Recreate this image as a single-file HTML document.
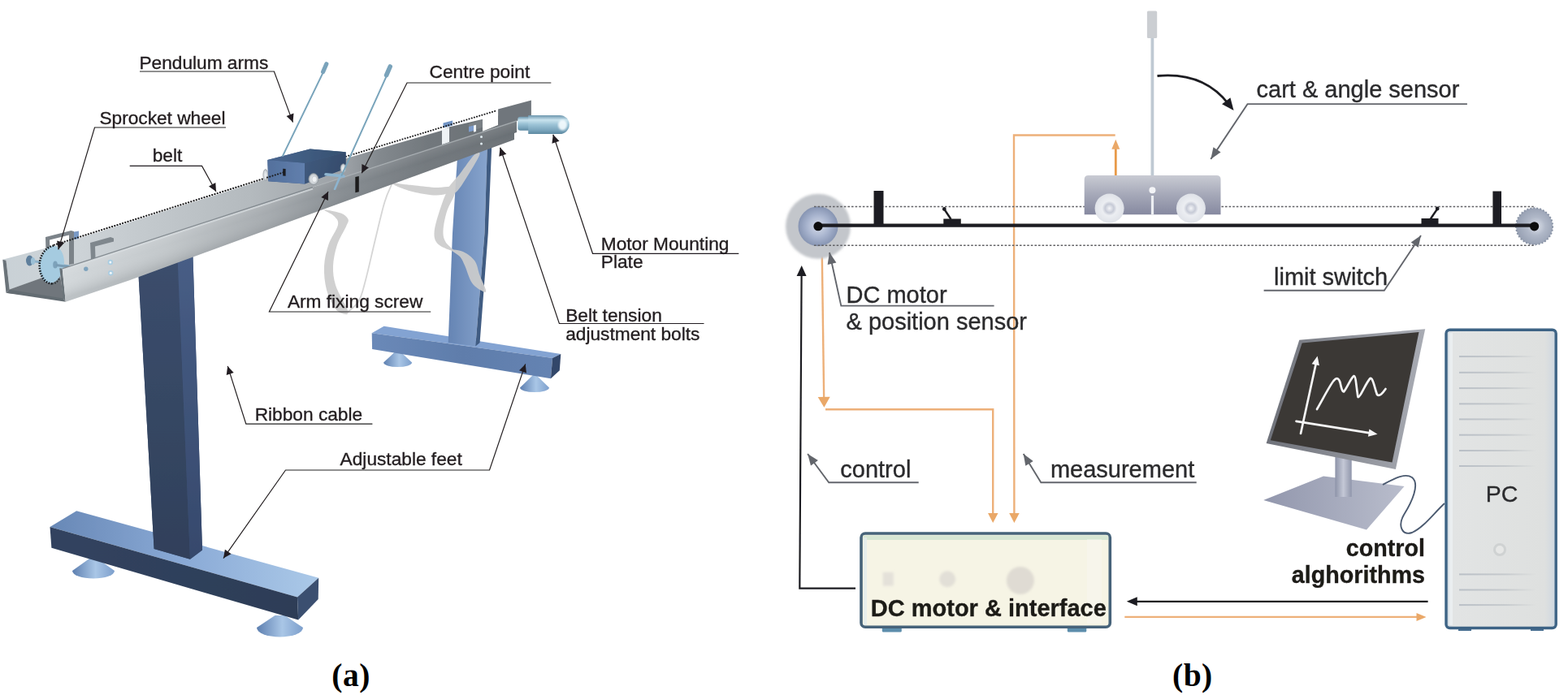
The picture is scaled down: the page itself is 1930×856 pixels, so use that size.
<!DOCTYPE html>
<html lang="en">
<head>
<meta charset="utf-8">
<title>Inverted pendulum setup</title>
<style>
html,body{margin:0;padding:0;background:#fff;}
body{width:1930px;height:856px;overflow:hidden;}
svg{display:block;}
text{white-space:pre;}
</style>
</head>
<body>
<svg width="1930" height="856" viewBox="0 0 1930 856">
<defs>

<filter id="blurA" filterUnits="userSpaceOnUse" x="0" y="0" width="960" height="856"><feGaussianBlur stdDeviation="0.4"/></filter>
<linearGradient id="gNear" gradientUnits="userSpaceOnUse" x1="80" y1="0" x2="636" y2="0">
  <stop offset="0" stop-color="#d3d8db"/><stop offset="0.22" stop-color="#c3c8cb"/>
  <stop offset="0.45" stop-color="#a6abaf"/><stop offset="0.62" stop-color="#868c91"/>
  <stop offset="0.8" stop-color="#72787d"/><stop offset="1" stop-color="#6a7075"/>
</linearGradient>
<linearGradient id="gNearV" gradientUnits="userSpaceOnUse" x1="300" y1="258" x2="311" y2="292">
  <stop offset="0" stop-color="#ffffff" stop-opacity="0.10"/><stop offset="0.35" stop-color="#ffffff" stop-opacity="0"/>
  <stop offset="1" stop-color="#20262c" stop-opacity="0.12"/>
</linearGradient>
<linearGradient id="gFar" gradientUnits="userSpaceOnUse" x1="4" y1="0" x2="612" y2="0">
  <stop offset="0" stop-color="#c9d1d6"/><stop offset="0.15" stop-color="#cdd3d7"/>
  <stop offset="0.5" stop-color="#b4babe"/><stop offset="0.7" stop-color="#9a9fa4"/>
  <stop offset="0.76" stop-color="#83898e"/><stop offset="0.86" stop-color="#72787d"/><stop offset="1" stop-color="#6a7075"/>
</linearGradient>
<linearGradient id="gColF" gradientUnits="userSpaceOnUse" x1="0" y1="330" x2="0" y2="690">
  <stop offset="0" stop-color="#3b4d6c"/><stop offset="1" stop-color="#30405a"/>
</linearGradient>
<linearGradient id="gColR" gradientUnits="userSpaceOnUse" x1="0" y1="320" x2="0" y2="690">
  <stop offset="0" stop-color="#475d85"/><stop offset="1" stop-color="#36496c"/>
</linearGradient>
<linearGradient id="gBaseTop" gradientUnits="userSpaceOnUse" x1="62" y1="0" x2="392" y2="0">
  <stop offset="0" stop-color="#6888b6"/><stop offset="0.5" stop-color="#8aaad6"/><stop offset="1" stop-color="#abc9e8"/>
</linearGradient>
<linearGradient id="gBaseFront" gradientUnits="userSpaceOnUse" x1="62" y1="0" x2="368" y2="0">
  <stop offset="0" stop-color="#31435f"/><stop offset="1" stop-color="#2d3d57"/>
</linearGradient>
<linearGradient id="gBCol" gradientUnits="userSpaceOnUse" x1="553" y1="0" x2="598" y2="0">
  <stop offset="0" stop-color="#6685b4"/><stop offset="1" stop-color="#86a3cc"/>
</linearGradient>
<linearGradient id="gBBaseF" gradientUnits="userSpaceOnUse" x1="458" y1="0" x2="680" y2="0">
  <stop offset="0" stop-color="#6a89b8"/><stop offset="0.5" stop-color="#5f7dab"/><stop offset="1" stop-color="#6583b2"/>
</linearGradient>
<linearGradient id="gFoot" x1="0" y1="0" x2="1" y2="0">
  <stop offset="0" stop-color="#5d7fb0"/><stop offset="0.55" stop-color="#a9c6e6"/><stop offset="1" stop-color="#7d9fcc"/>
</linearGradient>
<linearGradient id="gMotor" x1="0" y1="0" x2="0" y2="1">
  <stop offset="0" stop-color="#6b95ad"/><stop offset="0.25" stop-color="#c9e3ee"/>
  <stop offset="0.5" stop-color="#9cc3d6"/><stop offset="0.8" stop-color="#7aa5bc"/><stop offset="1" stop-color="#5d89a1"/>
</linearGradient>
<linearGradient id="gCartL" gradientUnits="userSpaceOnUse" x1="329" y1="0" x2="375" y2="0">
  <stop offset="0" stop-color="#53709c"/><stop offset="1" stop-color="#617fad"/>
</linearGradient>
<linearGradient id="gCartR" gradientUnits="userSpaceOnUse" x1="375" y1="200" x2="425" y2="215">
  <stop offset="0" stop-color="#405a7d"/><stop offset="1" stop-color="#344a6a"/>
</linearGradient>
<linearGradient id="gCartT" gradientUnits="userSpaceOnUse" x1="330" y1="0" x2="426" y2="0">
  <stop offset="0" stop-color="#4a6791"/><stop offset="1" stop-color="#35506f"/>
</linearGradient>
<radialGradient id="gWheel" cx="0.5" cy="0.5" r="0.5">
  <stop offset="0" stop-color="#eef1f3"/><stop offset="0.7" stop-color="#d2d7db"/><stop offset="1" stop-color="#aab0b6"/>
</radialGradient>
<filter id="soft" x="-5%" y="-5%" width="110%" height="110%"><feGaussianBlur stdDeviation="0.6"/></filter>
<filter id="soft2" x="-5%" y="-5%" width="110%" height="110%"><feGaussianBlur stdDeviation="1.0"/></filter>


<filter id="blurB" filterUnits="userSpaceOnUse" x="960" y="0" width="970" height="856"><feGaussianBlur stdDeviation="0.6"/></filter>
<radialGradient id="gPulL" cx="0.5" cy="0.5" r="0.5">
  <stop offset="0" stop-color="#d6dcea"/><stop offset="0.55" stop-color="#a9b5cf"/><stop offset="1" stop-color="#8694b2"/>
</radialGradient>
<radialGradient id="gPulR" cx="0.55" cy="0.5" r="0.5">
  <stop offset="0" stop-color="#dfe3ec"/><stop offset="0.5" stop-color="#b0b8c8"/><stop offset="1" stop-color="#9aa3b5"/>
</radialGradient>
<linearGradient id="gCartB" x1="0" y1="0" x2="0" y2="1">
  <stop offset="0" stop-color="#c9cbd3"/><stop offset="0.5" stop-color="#a5a8b8"/><stop offset="1" stop-color="#8689a0"/>
</linearGradient>
<radialGradient id="gWhB" cx="0.5" cy="0.5" r="0.5">
  <stop offset="0" stop-color="#f4f5f8"/><stop offset="0.3" stop-color="#c6cad6"/><stop offset="0.5" stop-color="#eceef2"/><stop offset="1" stop-color="#dfe2e8"/>
</radialGradient>
<linearGradient id="gPC" x1="0" y1="0" x2="1" y2="0">
  <stop offset="0" stop-color="#c9d6e2"/><stop offset="0.06" stop-color="#e2e4e4"/><stop offset="0.9" stop-color="#dee0df"/><stop offset="1" stop-color="#ccd6e0"/>
</linearGradient>
<linearGradient id="gVent" x1="0" y1="0" x2="1" y2="0">
  <stop offset="0" stop-color="#b9bfc6"/><stop offset="0.6" stop-color="#c6cacd"/><stop offset="1" stop-color="#dfe1e0"/>
</linearGradient>
<linearGradient id="gStand" x1="0" y1="0" x2="1" y2="0">
  <stop offset="0" stop-color="#8d93a8"/><stop offset="0.5" stop-color="#c4c8d6"/><stop offset="1" stop-color="#9096ab"/>
</linearGradient>
<linearGradient id="gPlate" gradientUnits="userSpaceOnUse" x1="1556" y1="0" x2="1729" y2="0">
  <stop offset="0" stop-color="#9297ad"/><stop offset="1" stop-color="#b9bdcc"/>
</linearGradient>
<linearGradient id="gBezel" gradientUnits="userSpaceOnUse" x1="1560" y1="0" x2="1755" y2="0">
  <stop offset="0" stop-color="#6f727a"/><stop offset="1" stop-color="#a9acb4"/>
</linearGradient>
<filter id="bsoft" x="-5%" y="-5%" width="110%" height="110%"><feGaussianBlur stdDeviation="0.7"/></filter>
<filter id="bsoft2" x="-10%" y="-10%" width="120%" height="120%"><feGaussianBlur stdDeviation="1.4"/></filter>

</defs>
<rect width="1930" height="856" fill="#ffffff"/>
<!-- figure a -->
<g id="fig-a" filter="url(#blurA)">
<path d="M487.6,432.0 L491.6,432.0 L507.1,446.5 A17.5,5.5 0 0 1 472.1,446.5 Z" fill="url(#gFoot)"/>
<path d="M656.0,462.0 L660.0,462.0 L676.0,477.5 A18.0,5.5 0 0 1 640.0,477.5 Z" fill="url(#gFoot)"/>
<polygon points="457.7,410.2 472.6,401.8 690.3,435.9 680.1,440.9" fill="#83a3d2" />
<polygon points="457.7,410.2 680.1,440.9 677.9,466.3 458.1,430.0" fill="url(#gBBaseF)" />
<polygon points="680.1,440.9 690.3,435.9 688.8,456.2 677.9,466.3" fill="#33476a" />
<polygon points="563.5,185.0 599.8,180.0 596.5,287.0 585.3,426.4 551.7,422.0 557.0,287.0" fill="url(#gBCol)" />
<polygon points="599.8,180.0 605.3,178.0 600.8,287.0 590.6,422.0 585.3,426.4 596.5,287.0" fill="#405b82" />
<g filter="url(#soft)" fill="#cccccc" opacity="0.92"><path d="M399.0,258.5 C397.6,259.1 408.2,262.9 411.0,266.0 C413.8,269.1 417.1,271.2 416.0,277.0 C414.9,282.8 407.3,292.5 404.5,301.0 C401.7,309.5 399.4,318.7 399.0,328.0 C398.6,337.3 399.7,348.2 402.0,357.0 C404.3,365.8 409.2,375.5 413.0,380.5 C416.8,385.5 422.4,386.4 425.0,387.0 C427.6,387.6 428.7,386.2 428.5,384.0 C428.3,381.8 426.6,379.5 424.0,374.0 C421.4,368.5 415.3,358.7 413.0,351.0 C410.7,343.3 409.7,336.2 410.0,328.0 C410.3,319.8 412.3,309.7 415.0,301.5 C417.7,293.3 423.8,284.2 426.0,279.0 C428.2,273.8 429.6,272.8 428.5,270.0 C427.4,267.2 424.4,264.4 419.5,262.5 C414.6,260.6 400.4,257.9 399.0,258.5 Z"/><path d="M482.0,225.0 C483.0,224.4 492.1,226.4 497.0,227.0 C501.9,227.6 504.7,227.7 511.5,228.4 C518.3,229.1 530.5,230.7 537.7,231.0 C545.0,231.3 551.8,229.2 555.0,230.0 C558.2,230.8 559.9,234.2 557.0,236.0 C554.1,237.8 545.3,240.3 537.7,240.5 C530.1,240.7 519.2,238.7 511.4,237.0 C503.6,235.3 495.9,232.5 491.0,230.5 C486.1,228.5 481.0,225.6 482.0,225.0 Z"/><path d="M551.5,232.5 C552.3,228.7 561.2,220.4 566.5,213.5 C571.8,206.6 579.5,194.9 583.5,191.0 C587.5,187.1 591.2,186.7 590.5,190.0 C589.8,193.3 583.8,203.2 579.0,211.0 C574.2,218.8 566.1,232.9 561.5,236.5 C556.9,240.1 550.7,236.3 551.5,232.5 Z"/><path d="M551.0,235.0 C547.7,239.2 542.8,254.3 540.0,263.0 C537.2,271.7 534.7,280.8 534.5,287.0 C534.3,293.2 535.4,296.8 539.0,300.5 C542.6,304.2 552.5,307.5 556.0,309.0 C559.5,310.5 561.2,311.3 560.0,309.5 C558.8,307.7 550.9,302.2 548.5,298.0 C546.1,293.8 545.2,290.2 545.5,284.0 C545.8,277.8 547.6,268.2 550.0,260.5 C552.4,252.8 559.8,241.8 560.0,237.5 C560.2,233.2 554.3,230.8 551.0,235.0 Z"/><path d="M556.0,308.0 C556.6,306.9 565.2,307.8 570.0,310.0 C574.8,312.2 581.1,316.7 584.5,321.5 C587.9,326.3 588.2,333.1 590.5,339.0 C592.8,344.9 597.3,353.7 598.0,357.0 C598.7,360.3 597.3,360.4 594.5,359.0 C591.7,357.6 584.7,353.7 581.0,348.5 C577.3,343.3 574.9,333.3 572.5,328.0 C570.1,322.7 569.2,319.8 566.5,316.5 C563.8,313.2 555.4,309.1 556.0,308.0 Z"/><path d="M426.5,385.5 C429.0,383.1 437.6,377.8 441.5,371.0 C445.4,364.2 446.6,357.6 450.0,345.0 C453.4,332.4 457.9,311.5 461.8,295.5 C465.7,279.5 469.9,260.5 473.4,249.0 C476.8,237.5 481.0,230.2 482.5,226.5" fill="none" stroke="#d2d2d2" stroke-width="1.8"/></g>
<path d="M110.0,688.0 L120.0,688.0 L141.0,703.0 A26.0,9.5 0 0 1 89.0,703.0 Z" fill="url(#gFoot)"/>
<path d="M338.5,758.0 L350.5,758.0 L373.0,773.0 A28.5,11.5 0 0 1 316.0,773.0 Z" fill="url(#gFoot)"/>
<polygon points="61.5,649.0 94.2,629.2 392.2,711.7 366.0,735.5" fill="url(#gBaseTop)" />
<polygon points="61.5,649.0 366.0,735.5 367.2,763.6 63.4,674.8" fill="url(#gBaseFront)" />
<polygon points="366.0,735.5 392.2,711.7 391.7,737.9 367.2,763.6" fill="#3a4f70" />
<polygon points="170.0,330.0 237.3,312.0 249.0,677.5 234.0,688.8 189.6,676.0" fill="#3c4f70" />
<polygon points="170.0,330.0 218.6,318.0 234.0,688.8 189.6,676.0" fill="url(#gColF)" />
<polygon points="218.6,318.0 237.3,312.0 249.0,677.5 234.0,688.8" fill="url(#gColR)" />
<polygon points="3.3,319.7 66.7,303.0 349.4,213.6 428.0,194.6 543.0,161.0 553.5,156.2 594.5,146.8 612.0,142.0 636.0,149.0 76.7,330.8 73.3,335.0 11.7,356.7 7.5,320.8" fill="url(#gFar)" />
<polygon points="11.0,356.7 73.3,334.5 78.5,368.5 9.0,361.0" fill="#6f767b" />
<polygon points="3.3,319.7 7.5,320.8 11.7,356.7 7.5,360.8" fill="#6b7379" />
<polygon points="7.5,360.8 11.7,356.7 77.5,367.5 80.8,371.7" fill="#646c72" />
<polygon points="544.0,159.7 553.0,157.0 553.0,175.0 544.0,177.9" fill="#eef2f5" />
<polygon points="545.5,151.5 557.0,148.5 557.0,154.5 545.5,157.5" fill="#6f93c4" />
<polygon points="577.0,152.7 594.0,147.5 594.0,156.7 577.0,162.2" fill="#7a8085" />
<polygon points="577.0,156.0 583.0,154.5 583.0,161.0 577.0,162.5" fill="#7d9ccb" />
<polygon points="583.0,154.5 586.0,153.8 586.0,162.0 583.0,162.8" fill="#eef2f5" />
<polygon points="594.0,142.5 613.1,135.5 613.1,154.0 594.0,161.7" fill="#ffffff" />
<polygon points="613.1,134.5 653.9,123.4 653.9,143.5 636.0,149.0 613.1,155.5" fill="#70767b" />
<polygon points="56.0,292.0 87.5,284.0 91.0,285.0 91.0,325.0 85.0,326.0 85.0,289.5 61.0,295.5 61.5,309.0 56.5,310.0" fill="#7b8389" />
<polygon points="91.0,285.5 97.0,284.5 97.0,294.0 91.0,295.0" fill="#7a9ac6" />
<polygon points="111.0,299.0 136.0,292.0 140.0,293.5 140.0,297.5 117.0,303.5 117.5,318.0 112.0,319.5" fill="#7f878d" />
<g filter="url(#soft)"><line x1="36" y1="321" x2="86" y2="328" stroke="#8fb2c9" stroke-width="3"/><ellipse cx="36.5" cy="321" rx="4.5" ry="6.5" fill="#5f7f9c"/><ellipse cx="40.5" cy="321.6" rx="2.6" ry="4.6" fill="#9cc0d6"/><ellipse cx="63.7" cy="325.8" rx="15" ry="23" transform="rotate(9 63.7 325.8)" fill="#a5cbe0"/><path d="M66,302.5 C54,305 47,318 49,332 C51,343 57,349 64,349.5" fill="none" stroke="#15191c" stroke-width="2.6" stroke-dasharray="1.6 1.6"/><path d="M64,349.5 C68,349.5 71,347 73,343" fill="none" stroke="#2a3035" stroke-width="2" stroke-dasharray="1.5 1.8"/><ellipse cx="68" cy="326" rx="2.8" ry="4.6" fill="#7da2ba"/><line x1="69" y1="326.5" x2="84" y2="328.5" stroke="#7a9cb4" stroke-width="3.2"/></g>
<polygon points="73.3,330.3 76.7,330.8 80.8,371.7 77.5,367.5" fill="#6b7379" />
<polygon points="76.7,330.8 636.0,149.0 636.0,163.0 633.0,164.0 633.0,172.0 340.0,279.0 160.0,345.0 80.8,371.7" fill="url(#gNear)" />
<polygon points="76.7,330.8 636.0,149.0 636.0,163.0 633.0,164.0 633.0,172.0 340.0,279.0 160.0,345.0 80.8,371.7" fill="url(#gNearV)" />
<line x1="77" y1="332.6" x2="385" y2="232.4" stroke="#d9dee1" stroke-width="2.2" opacity="0.7"/>
<line x1="76.7" y1="330.8" x2="385" y2="230.6" stroke="#7a8288" stroke-width="1.3" opacity="0.9"/>
<line x1="392" y1="228.3" x2="636" y2="149" stroke="#aab0b4" stroke-width="1.4" opacity="0.75"/>
<circle cx="105.8" cy="331.3" r="2.7" fill="#7fa3bd"/>
<circle cx="135.8" cy="323" r="3.2" fill="#a9cde2"/><circle cx="135.8" cy="323" r="1.5" fill="#f2f8fb"/>
<circle cx="136.3" cy="336.3" r="3.2" fill="#a9cde2"/><circle cx="136.3" cy="336.3" r="1.5" fill="#f2f8fb"/>
<circle cx="592.5" cy="168.5" r="1.5" fill="#dfeaf0"/><circle cx="592.5" cy="177" r="1.5" fill="#dfeaf0"/>
<polygon points="437.3,218.0 441.8,217.0 441.8,236.3 437.3,237.3" fill="#1d1d1f" />
<line x1="66.7" y1="301.7" x2="329" y2="218.6" stroke="#1c1c1e" stroke-width="2.2" stroke-linecap="round" stroke-dasharray="0.1 3.3"/>
<line x1="426" y1="192.7" x2="612" y2="136" stroke="#1c1c1e" stroke-width="2" stroke-linecap="round" stroke-dasharray="0.1 3.2"/>
<g filter="url(#soft)"><rect x="637.3" y="143.8" width="16" height="17" rx="3" fill="url(#gMotor)"/><path d="M650.2,142 L689,142 A11.8,11.5 0 0 1 689,165 L650.2,165 Z" fill="url(#gMotor)"/><ellipse cx="692.5" cy="154" rx="5.5" ry="6.5" fill="#f6fcff" opacity="0.9" filter="url(#soft2)"/></g>
<ellipse cx="326.8" cy="215.5" rx="3" ry="7" fill="url(#gWheel)" stroke="#9aa0a6" stroke-width="0.6"/>
<polygon points="329.3,197.1 381.7,183.6 425.6,187.3 425.6,207.5 375.1,226.5 330.3,223.3" fill="#44608a" />
<polygon points="329.3,197.1 375.1,200.8 375.1,226.5 330.3,223.3" fill="url(#gCartL)" />
<polygon points="329.3,197.1 381.7,183.6 425.6,187.3 375.1,200.8" fill="url(#gCartT)" />
<polygon points="375.1,200.8 425.6,187.3 425.6,207.5 375.1,226.5" fill="url(#gCartR)" />
<polygon points="348.2,207.8 351.6,208.1 351.6,216.8 348.2,216.5" fill="#1a1c22" />
<line x1="329" y1="218.6" x2="349" y2="212.3" stroke="#1c1c1e" stroke-width="2.1" stroke-linecap="round" stroke-dasharray="0.1 3.3"/>
<ellipse cx="385.9" cy="220.6" rx="6" ry="7" fill="url(#gWheel)" stroke="#8d9399" stroke-width="0.7"/>
<ellipse cx="387" cy="220.8" rx="3" ry="3.8" fill="#eef1f3" stroke="#b9bec3" stroke-width="0.6"/>
<ellipse cx="422.5" cy="207.4" rx="3.4" ry="5.6" fill="url(#gWheel)" stroke="#9aa0a6" stroke-width="0.6"/>
<g filter="url(#soft)" stroke-linecap="round"><line x1="401" y1="214.8" x2="423" y2="217" stroke="#8db4cf" stroke-width="3.6"/><line x1="420" y1="214" x2="412" y2="233" stroke="#8db4cf" stroke-width="2.6"/></g>
<g stroke-linecap="round"><line x1="348" y1="192" x2="398.3" y2="88" stroke="#79a4bb" stroke-width="1.9"/><line x1="397.6" y1="88.6" x2="401.8" y2="78.8" stroke="#7aa3bb" stroke-width="5.2"/><line x1="420.5" y1="216" x2="476.5" y2="92" stroke="#79a4bb" stroke-width="1.9"/><line x1="475.6" y1="92.6" x2="480.2" y2="82" stroke="#7aa3bb" stroke-width="5.6"/></g>
<text x="171.4" y="84.9" font-family='"Liberation Sans", sans-serif' font-size="22.7" font-weight="400" fill="#231f20" text-anchor="start"  stroke="#231f20" stroke-width="0.35">Pendulum arms</text>
<polyline points="172.0,88.0 337.4,88.0 360.5,150.6" fill="none" stroke="#231f20" stroke-width="1.2"/><polygon points="360.5,150.6 352.6,142.9 361.5,139.6" fill="#231f20" />
<text x="122.4" y="152.6" font-family='"Liberation Sans", sans-serif' font-size="22.7" font-weight="400" fill="#231f20" text-anchor="start"  stroke="#231f20" stroke-width="0.35">Sprocket wheel</text>
<polyline points="278.0,157.0 116.5,157.0 71.8,307.3" fill="none" stroke="#231f20" stroke-width="1.2"/><polygon points="71.8,307.3 70.1,296.4 79.2,299.1" fill="#231f20" />
<text x="187.7" y="198.9" font-family='"Liberation Sans", sans-serif' font-size="22.7" font-weight="400" fill="#231f20" text-anchor="start"  stroke="#231f20" stroke-width="0.35">belt</text>
<polyline points="159.7,204.4 248.5,204.4 266.0,236.0" fill="none" stroke="#231f20" stroke-width="1.2"/><polygon points="266.0,236.0 257.0,229.6 265.3,225.0" fill="#231f20" />
<text x="528.6" y="96.0" font-family='"Liberation Sans", sans-serif' font-size="22.7" font-weight="400" fill="#231f20" text-anchor="start"  stroke="#231f20" stroke-width="0.35">Centre point</text>
<polyline points="678.3,102.0 501.0,102.0 445.2,213.2" fill="none" stroke="#231f20" stroke-width="1.2"/><polygon points="445.2,213.2 445.4,202.1 453.9,206.4" fill="#231f20" />
<text x="739.8" y="307.7" font-family='"Liberation Sans", sans-serif' font-size="22.7" font-weight="400" fill="#231f20" text-anchor="start"  stroke="#231f20" stroke-width="0.35">Motor Mounting</text>
<text x="739.8" y="330.4" font-family='"Liberation Sans", sans-serif' font-size="22.7" font-weight="400" fill="#231f20" text-anchor="start"  stroke="#231f20" stroke-width="0.35">Plate</text>
<polyline points="909.3,312.3 729.5,312.3 680.8,165.7" fill="none" stroke="#231f20" stroke-width="1.2"/><polygon points="680.8,165.7 688.5,173.7 679.4,176.7" fill="#231f20" />
<text x="696.2" y="396.0" font-family='"Liberation Sans", sans-serif' font-size="22.7" font-weight="400" fill="#231f20" text-anchor="start"  stroke="#231f20" stroke-width="0.35">Belt tension</text>
<text x="696.2" y="418.8" font-family='"Liberation Sans", sans-serif' font-size="22.7" font-weight="400" fill="#231f20" text-anchor="start"  stroke="#231f20" stroke-width="0.35">adjustment bolts</text>
<polyline points="866.5,398.5 688.4,398.5 615.6,181.8" fill="none" stroke="#231f20" stroke-width="1.2"/><polygon points="615.6,181.8 623.3,189.8 614.3,192.8" fill="#231f20" />
<text x="353.9" y="378.6" font-family='"Liberation Sans", sans-serif' font-size="22.7" font-weight="400" fill="#231f20" text-anchor="start"  stroke="#231f20" stroke-width="0.35">Arm fixing screw</text>
<polyline points="530.2,384.0 331.4,384.0 404.0,236.0" fill="none" stroke="#231f20" stroke-width="1.2"/><polygon points="404.0,236.0 403.9,247.1 395.3,242.9" fill="#231f20" />
<text x="313.7" y="518.2" font-family='"Liberation Sans", sans-serif' font-size="22.7" font-weight="400" fill="#231f20" text-anchor="start"  stroke="#231f20" stroke-width="0.35">Ribbon cable</text>
<polyline points="458.4,522.2 302.8,522.2 280.2,450.9" fill="none" stroke="#231f20" stroke-width="1.2"/><polygon points="280.2,450.9 287.7,459.0 278.7,461.9" fill="#231f20" />
<text x="418.6" y="573.0" font-family='"Liberation Sans", sans-serif' font-size="22.7" font-weight="400" fill="#231f20" text-anchor="start"  stroke="#231f20" stroke-width="0.35">Adjustable feet</text>
<polyline points="646.7,448.4 602.5,579.0 351.5,579.0 275.0,687.6" fill="none" stroke="#231f20" stroke-width="1.2"/><polygon points="275.0,687.6 276.9,676.7 284.6,682.2" fill="#231f20" />
<polygon points="646.7,448.4 648.0,459.4 639.0,456.3" fill="#231f20" />
</g>
<!-- figure b -->
<g id="fig-b" filter="url(#blurB)">
<g fill="none" stroke="#e6eef5" stroke-width="3" filter="url(#bsoft)"><line x1="1003" y1="320" x2="1003" y2="480"/></g>
<g fill="none" stroke="#edb079" stroke-width="2.4" filter="url(#bsoft)"><polyline points="1011.7,307 1014.2,492"/><polyline points="1016,504.3 1222.2,504.3 1222.2,634"/><polyline points="1372.7,166.5 1248,166.5 1248.4,634"/><line x1="1373.3" y1="216" x2="1373.3" y2="182" stroke="#e89a48" stroke-width="2.8"/><line x1="1384.3" y1="759.9" x2="1745" y2="759.9"/></g>
<polygon points="1014.4,501.8 1006.7,488.9 1021.7,488.7" fill="#eaa868" />
<polygon points="1222.2,644.0 1216.0,632.0 1228.5,632.0" fill="#eaa868" />
<polygon points="1248.4,644.0 1242.2,632.0 1254.7,632.0" fill="#eaa868" />
<polygon points="1373.3,171.7 1378.3,183.7 1368.3,183.7" fill="#eaa868" />
<polygon points="1755.5,759.9 1743.5,764.9 1743.5,754.9" fill="#eaa868" />
<g fill="none" stroke="#1e1e20" stroke-width="2.2"><polyline points="986.6,338 984.3,724.7 1053,724.7"/><line x1="1398" y1="740.8" x2="1757.6" y2="740.8"/></g>
<polygon points="986.7,327.0 992.6,340.0 980.6,340.0" fill="#1e1e20" />
<polygon points="1386.8,740.8 1399.8,735.3 1399.8,746.3" fill="#1e1e20" />
<circle cx="1007" cy="278.7" r="40" fill="#c3c6cb" filter="url(#bsoft2)"/>
<circle cx="1007" cy="278.7" r="24.5" fill="url(#gPulL)" filter="url(#bsoft)"/>
<circle cx="1888.6" cy="278.8" r="22.5" fill="url(#gPulR)" stroke="#8a94a6" stroke-width="2" stroke-dasharray="2 2" filter="url(#bsoft)"/>
<g stroke="#626266" stroke-width="1.6" stroke-dasharray="2.6 2"><line x1="1002" y1="254.5" x2="1890" y2="254.5"/><line x1="1002" y1="302.3" x2="1890" y2="302.3"/></g>
<line x1="1007" y1="277.6" x2="1889" y2="277.6" stroke="#1e1e20" stroke-width="4.2"/>
<circle cx="1007" cy="278.7" r="5.6" fill="#0e0e10"/>
<circle cx="1888.6" cy="278.8" r="5.6" fill="#0e0e10"/>
<rect x="1075.5" y="235" width="12" height="42" fill="#1e1e20"/>
<rect x="1837.4" y="235.5" width="10.6" height="42" fill="#1e1e20"/>
<rect x="1161.3" y="269.5" width="21.5" height="7" fill="#1e1e20"/><line x1="1162.5" y1="258" x2="1170.5" y2="270" stroke="#1e1e20" stroke-width="2.4"/><circle cx="1162.3" cy="257.5" r="2.4" fill="#1e1e20"/>
<rect x="1749.5" y="269" width="21" height="7.5" fill="#1e1e20"/><line x1="1769" y1="257.5" x2="1760.5" y2="270" stroke="#1e1e20" stroke-width="2.4"/><circle cx="1769.2" cy="257" r="2.4" fill="#1e1e20"/>
<g filter="url(#bsoft)"><rect x="1416.5" y="46" width="3.8" height="172" fill="#bfc9d3"/><rect x="1411.9" y="13.5" width="12.3" height="33.5" rx="1.5" fill="#cbced2"/><path d="M1334.7,264.3 L1334.7,221 Q1334.7,216 1339.7,216 L1497.5,216 Q1502.5,216 1502.5,221 L1502.5,264.3 Z" fill="url(#gCartB)"/><circle cx="1365.6" cy="256.6" r="18" fill="url(#gWhB)"/><circle cx="1465.9" cy="256.6" r="18" fill="url(#gWhB)"/><circle cx="1418.4" cy="234.2" r="4" fill="#f3f4f7"/><rect x="1416.9" y="241" width="3.2" height="23.3" fill="#eceef2"/></g>
<path d="M1424.5,93.5 C1462,90 1492,102 1512,128" fill="none" stroke="#1e1e20" stroke-width="2.8"/>
<polygon points="1518.5,136.0 1504.1,128.2 1514.4,120.2" fill="#1e1e20" />
<g filter="url(#bsoft)"><rect x="1085.8" y="771" width="24" height="7.6" rx="1.5" fill="#5d8eac"/><rect x="1313.8" y="771" width="23.5" height="7.6" rx="1.5" fill="#5d8eac"/><rect x="1060" y="657" width="306.3" height="115.2" rx="5" fill="#f6f4e5" stroke="#46647a" stroke-width="3.6"/><rect x="1062.5" y="659.5" width="301.3" height="5.5" fill="#d6e6d3"/><rect x="1063" y="662" width="4" height="108" fill="#e3ecee" opacity="0.8"/><rect x="1338" y="664" width="18" height="104" fill="#fbf8f4" opacity="0.4"/></g><g filter="url(#bsoft2)"><rect x="1086.7" y="704.8" width="13" height="16.8" fill="#e4e1d9"/><circle cx="1166.2" cy="713.2" r="10" fill="#e2dfd7"/><circle cx="1255.9" cy="715" r="17" fill="#dfdbd3"/></g>
<text x="1071.8" y="758.6" font-family='"Liberation Sans", sans-serif' font-size="29" font-weight="700" fill="#1c1a18" text-anchor="start"  stroke="#1c1a18" stroke-width="0.35">DC motor &amp; interface</text>
<g filter="url(#bsoft)"><polygon points="1555.2,616.0 1629.0,586.6 1728.5,599.0 1682.0,652.4" fill="url(#gPlate)" /><rect x="1643.4" y="562" width="20.3" height="50" fill="url(#gStand)"/><polygon points="1599.3,418.8 1754.2,405.2 1717.9,578.0 1558.6,545.9" fill="url(#gBezel)" /><polygon points="1602.7,422.4 1746.5,409.0 1713.5,569.5 1563.8,542.3" fill="#3b3836" /></g>
<g fill="none" stroke="#f6f6f6" stroke-width="2.7" stroke-linecap="round" stroke-linejoin="round" filter="url(#bsoft)"><line x1="1601" y1="534" x2="1620.8" y2="443"/><line x1="1595.5" y1="518.8" x2="1688" y2="533.6"/><path d="M1621,504 C1628,492 1636,476 1641.5,469 C1645,465 1647.5,465 1649.5,471 C1651,478 1652.5,484 1654.5,482 C1659,476 1663,465 1666.5,463 C1669,463 1669.5,478 1671.5,489 C1674,490 1681,472 1686.5,466 C1690,465 1692,478 1695,486 C1698,489 1702,484 1705.5,479"/></g>
<polygon points="1621.6,438.5 1623.9,450.3 1614.6,448.3" fill="#f6f6f6" />
<polygon points="1695.5,534.8 1683.9,537.7 1685.4,528.4" fill="#f6f6f6" />
<path d="M1702,597 C1715,590 1729,582 1738,588 C1748,596 1738,618 1728,634 C1720,648 1726,660 1738,656 C1752,650 1765,632 1778,620" fill="none" stroke="#4b5a70" stroke-width="1.9"/>
<g filter="url(#bsoft)"><rect x="1795" y="771" width="16" height="6" fill="#4a6f92"/><rect x="1884" y="771" width="16" height="6" fill="#4a6f92"/><rect x="1780" y="406.2" width="135.2" height="367.3" rx="4.5" fill="url(#gPC)" stroke="#3d6485" stroke-width="3.4"/><rect x="1783.5" y="410" width="4.5" height="360" fill="#eef1f2" opacity="0.8"/><rect x="1796" y="438.1" width="96" height="2" fill="url(#gVent)"/><rect x="1796" y="457.8" width="96" height="2" fill="url(#gVent)"/><rect x="1796" y="477.1" width="96" height="2" fill="url(#gVent)"/><rect x="1796" y="496.4" width="96" height="2" fill="url(#gVent)"/><rect x="1796" y="515.4" width="96" height="2" fill="url(#gVent)"/><rect x="1796" y="534.7" width="96" height="2" fill="url(#gVent)"/><rect x="1796" y="554.0" width="96" height="2" fill="url(#gVent)"/><rect x="1796" y="573.0" width="96" height="2" fill="url(#gVent)"/><rect x="1796" y="706.4" width="96" height="2" fill="url(#gVent)"/><rect x="1796" y="725.5" width="96" height="2" fill="url(#gVent)"/><rect x="1796" y="744.1" width="96" height="2" fill="url(#gVent)"/><circle cx="1846" cy="677" r="6.5" fill="#e6e7e6" stroke="#cfd2d2" stroke-width="3"/></g>
<text x="1828.8" y="617.6" font-family='"Liberation Sans", sans-serif' font-size="28.5" font-weight="400" fill="#2b2b2d" text-anchor="start"  stroke="#2b2b2d" stroke-width="0.35">PC</text>
<text x="1041.5" y="373.0" font-family='"Liberation Sans", sans-serif' font-size="29" font-weight="400" fill="#2b2b2d" text-anchor="start"  stroke="#2b2b2d" stroke-width="0.35">DC motor</text>
<text x="1041.5" y="406.0" font-family='"Liberation Sans", sans-serif' font-size="29" font-weight="400" fill="#2b2b2d" text-anchor="start"  stroke="#2b2b2d" stroke-width="0.35">&amp; position sensor</text>
<polyline points="1223.6,376.6 1035.3,376.6 1021.0,311.0" fill="none" stroke="#63666c" stroke-width="1.9"/><polygon points="1021.0,311.0 1029.4,323.5 1018.6,325.9" fill="#63666c" />
<text x="1546.5" y="119.6" font-family='"Liberation Sans", sans-serif' font-size="29" font-weight="400" fill="#2b2b2d" text-anchor="start"  stroke="#2b2b2d" stroke-width="0.35">cart &amp; angle sensor</text>
<polyline points="1805.9,128.1 1535.5,128.1 1490.3,196.0" fill="none" stroke="#63666c" stroke-width="1.9"/><polygon points="1490.3,196.0 1493.5,181.3 1502.6,187.4" fill="#63666c" />
<text x="1568.0" y="350.8" font-family='"Liberation Sans", sans-serif' font-size="29" font-weight="400" fill="#2b2b2d" text-anchor="start"  stroke="#2b2b2d" stroke-width="0.35">limit switch</text>
<polyline points="1555.6,357.8 1703.8,357.8 1749.0,290.0" fill="none" stroke="#63666c" stroke-width="1.9"/><polygon points="1749.0,290.0 1745.8,304.7 1736.7,298.6" fill="#63666c" />
<text x="1034.3" y="587.7" font-family='"Liberation Sans", sans-serif' font-size="29" font-weight="400" fill="#2b2b2d" text-anchor="start"  stroke="#2b2b2d" stroke-width="0.35">control</text>
<polyline points="1130.7,594.2 1020.2,594.2 994.1,559.0" fill="none" stroke="#63666c" stroke-width="1.9"/><polygon points="994.1,559.0 1006.9,567.0 998.0,573.5" fill="#63666c" />
<text x="1292.9" y="587.7" font-family='"Liberation Sans", sans-serif' font-size="29" font-weight="400" fill="#2b2b2d" text-anchor="start"  stroke="#2b2b2d" stroke-width="0.35">measurement</text>
<polyline points="1472.7,594.2 1281.3,594.2 1259.7,559.0" fill="none" stroke="#63666c" stroke-width="1.9"/><polygon points="1259.7,559.0 1271.7,568.1 1262.3,573.8" fill="#63666c" />
<text x="1754.0" y="684.8" font-family='"Liberation Sans", sans-serif' font-size="28.7" font-weight="700" fill="#1c1a18" text-anchor="end"  stroke="#1c1a18" stroke-width="0.35">control</text>
<text x="1754.0" y="717.5" font-family='"Liberation Sans", sans-serif' font-size="28.7" font-weight="700" fill="#1c1a18" text-anchor="end"  stroke="#1c1a18" stroke-width="0.35">alghorithms</text>
</g>
<!-- captions -->
<text x="408.3" y="845.4" font-family='"Liberation Serif", serif' font-size="39.5" font-weight="700" fill="#000" text-anchor="start" letter-spacing="0.5" stroke="none">(a)</text>
<text x="1443.0" y="845.4" font-family='"Liberation Serif", serif' font-size="39.5" font-weight="700" fill="#000" text-anchor="start" letter-spacing="0.5" stroke="none">(b)</text>
</svg>
</body>
</html>
